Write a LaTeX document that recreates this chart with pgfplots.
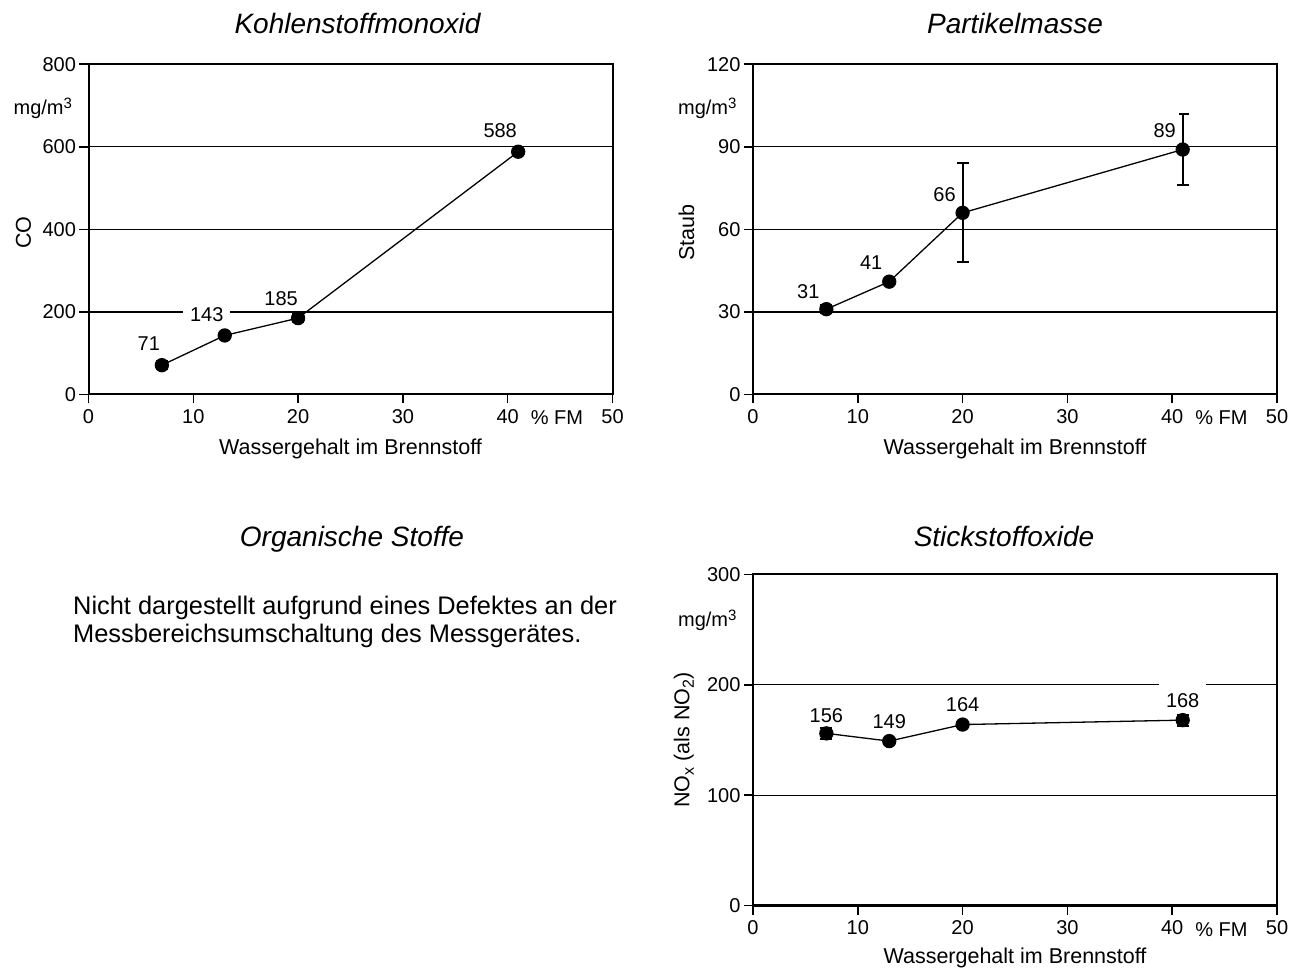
\documentclass[border=0pt]{standalone}
\usepackage{fontspec}
\setmainfont{Liberation Sans}
\usepackage{pgfplots}
\usepackage{pgfplotstable}
\pgfplotsset{compat=1.18}

\newcommand\fa{\fontsize{20bp}{24bp}\selectfont}
\newcommand\fb{\fontsize{21.5bp}{26bp}\selectfont}
\newcommand\fc{\fontsize{25.4bp}{30bp}\selectfont}
\newcommand\ft{\fontsize{28bp}{33bp}\selectfont}
\newcommand\unit{mg/m\raisebox{6.5bp}{\fontsize{15bp}{15bp}\selectfont 3}}
\newcommand\sub[1]{\raisebox{-4.5bp}{\fontsize{16bp}{16bp}\selectfont #1}}

% x y error label-dx label-dy(baseline)
\pgfplotstableread{
x y e dx dy
7 71 10 -13 15
13 143 0 -18 14
20 185 10 -17 13
41 588 6 -18 14
}\codata
\pgfplotstableread{
x y e dx dy
7 31 1.5 -18 11
13 41 0 -18 12
20 66 18 -18 11
41 89 13 -18 12
}\staubdata
\pgfplotstableread{
x y e dx dy
7 156 5 0 11
13 149 0 0 13
20 164 0 0 13
41 168 5 0 13
}\noxdata

\pgfplotsset{
  panel/.style={
    scale only axis, clip=false,
    xmin=0, xmax=50, xtick={0,10,...,50},
    tick pos=left, tick align=outside, major tick length=9bp,
    ymajorgrids, grid style={black, line width=1.2bp},
    axis line style={black, line width=2bp},
    tick style={black, line width=1.5bp},
    tick label style={font=\fa},
    xticklabel style={yshift=-3bp},
    /pgf/number format/assume math mode=true,
  },
  series/.style={
    black, line width=1.3bp, mark=*, mark size=6.5bp,
    mark options={solid, fill=black},
    error bars/.cd, y dir=both, y explicit,
    error bar style={line width=2bp},
    error mark options={rotate=90, mark size=6bp, line width=2bp},
    /pgfplots/.cd,
  },
  lbl/.style={
    visualization depends on={\thisrow{dx} \as \dx},
    visualization depends on={\thisrow{dy} \as \dy},
    nodes near coords,
    nodes near coords style={anchor=base, xshift=\dx*1bp, yshift=\dy*1bp,
      fill=white, inner xsep=#1, inner ysep=1bp, text height=25bp, text depth=2bp,
      font=\fa, text=black},
  },
}

\begin{document}
\begin{tikzpicture}

% ---------- Kohlenstoffmonoxid ----------
\begin{axis}[panel, at={(88.5bp,578.5bp)}, anchor=south west,
  width=524bp, height=330.3bp, ymin=0, ymax=800, ytick={0,200,...,800}]
\addplot+[lbl=7bp, series] table[x=x, y=y, y error=e] {\codata};
\node[anchor=base east, font=\fa] at (axis cs:0,677) [xshift=-13bp] {\unit};
\node[anchor=base, font=\fa] at (axis cs:44.7,0) [yshift=-30.5bp] {\% FM};
\node[anchor=base, font=\fb] at (axis description cs:0.5,0) [yshift=-60.5bp] {Wassergehalt im Brennstoff};
\node[rotate=90, font=\fb] at (axis description cs:-0.124,0.49) {CO};
\end{axis}

% ---------- Partikelmasse ----------
\begin{axis}[panel, at={(753bp,578.5bp)}, anchor=south west,
  width=524bp, height=330.3bp, ymin=0, ymax=120, ytick={0,30,...,120}]
\addplot+[lbl=3bp, series] table[x=x, y=y, y error=e] {\staubdata};
\node[anchor=base east, font=\fa] at (axis cs:0,101.6) [xshift=-13bp] {\unit};
\node[anchor=base, font=\fa] at (axis cs:44.7,0) [yshift=-30.5bp] {\% FM};
\node[anchor=base, font=\fb] at (axis description cs:0.5,0) [yshift=-60.5bp] {Wassergehalt im Brennstoff};
\node[rotate=90, font=\fb] at (axis description cs:-0.127,0.49) {Staub};
\end{axis}

% ---------- Stickstoffoxide ----------
\begin{axis}[panel, at={(753bp,67.5bp)}, anchor=south west,
  width=524bp, height=331bp, ymin=0, ymax=300, ytick={0,100,...,300}]
\addplot+[lbl=7bp, series] table[x=x, y=y, y error=e] {\noxdata};
\node[anchor=base east, font=\fa] at (axis cs:0,252.7) [xshift=-13bp] {\unit};
\node[anchor=base, font=\fa] at (axis cs:44.7,0) [yshift=-30.5bp] {\% FM};
\node[anchor=base, font=\fb] at (axis description cs:0.5,0) [yshift=-58bp] {Wassergehalt im Brennstoff};
\node[rotate=90, font=\fb] at (axis description cs:-0.132,0.5) {NO\sub{x} (als NO\sub{2})};
\end{axis}

% ---------- titles and text ----------
\node[anchor=base, font=\ft\itshape] at (357.5bp,939.7bp) {Kohlenstoffmonoxid};
\node[anchor=base, font=\ft\itshape] at (1015bp,939.7bp) {Partikelmasse};
\node[anchor=base, font=\ft\itshape] at (352bp,426bp) {Organische Stoffe};
\node[anchor=base, font=\ft\itshape] at (1004bp,426bp) {Stickstoffoxide};
\node[anchor=base west, font=\fc, inner sep=0pt] at (73bp,358bp) {Nicht dargestellt aufgrund eines Defektes an der};
\node[anchor=base west, font=\fc, inner sep=0pt] at (73bp,330bp) {Messbereichsumschaltung des Messgerätes.};

\pgfresetboundingbox
\path[use as bounding box] (0bp,0bp) rectangle (1306bp,973bp);
\end{tikzpicture}
\end{document}
